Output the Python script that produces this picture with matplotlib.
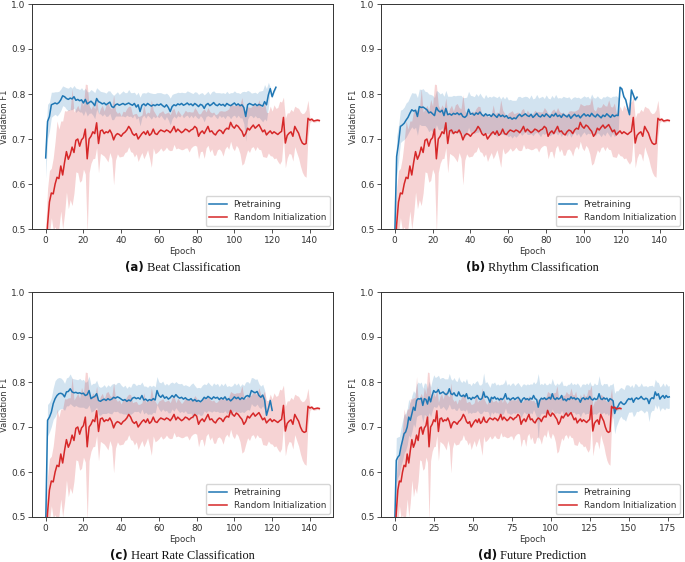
"""Validation F1 per epoch: pretraining vs random initialization on four ECG tasks"""

import numpy as np
import matplotlib.pyplot as plt

# validation F1 x1000, one value per epoch (mean and spread of the shaded band)
random_mean = [
    440, 510, 560, 580, 578, 600, 615, 612, 640, 620,
    648, 672, 655, 665, 682, 670, 697, 700, 684, 698,
    703, 722, 656, 700, 706, 716, 712, 736, 690, 718,
    720, 712, 716, 714, 720, 712, 698, 708, 712, 710,
    706, 712, 715, 720, 728, 722, 712, 708, 712, 700,
    706, 712, 716, 710, 718, 708, 712, 722, 712, 710,
    716, 720, 718, 716, 720, 718, 714, 720, 728, 716,
    722, 718, 714, 717, 722, 720, 716, 720, 722, 728,
    724, 706, 714, 718, 712, 720, 728, 716, 718, 712,
    709, 716, 720, 718, 712, 720, 724, 722, 737, 728,
    724, 731, 728, 722, 717, 706, 712, 724, 720, 726,
    731, 724, 728, 732, 724, 716, 720, 709, 714, 718,
    712, 716, 713, 710, 714, 717, 748, 691, 708, 713,
    716, 706, 728, 720, 713, 700, 691, 688, 690, 746,
    742, 744, 740, 741, 742, 741]
random_sd = [
    60, 80, 70, 55, 80, 95, 125, 110, 100, 120,
    115, 90, 110, 100, 130, 90, 70, 75, 80, 90,
    70, 100, 165, 75, 60, 60, 55, 55, 65, 50,
    55, 50, 60, 65, 50, 55, 100, 55, 45, 50,
    45, 50, 45, 48, 45, 50, 42, 48, 45, 50,
    45, 42, 60, 45, 42, 50, 75, 42, 45, 40,
    42, 40, 45, 40, 38, 42, 40, 45, 40, 38,
    42, 40, 38, 40, 42, 40, 45, 40, 38, 42,
    40, 50, 42, 45, 55, 40, 42, 45, 40, 48,
    45, 40, 42, 45, 50, 42, 40, 45, 42, 48,
    50, 45, 48, 55, 75, 60, 50, 48, 50, 45,
    48, 50, 45, 55, 48, 55, 60, 50, 45, 55,
    50, 60, 55, 60, 70, 65, 45, 55, 50, 45,
    50, 55, 45, 50, 55, 60, 65, 70, 75, 40,
    5, 4, 3, 3, 3, 3]

beat_mean = [
    658, 739, 750, 776, 778, 780, 778, 781, 787, 796,
    794, 790, 788, 791, 789, 794, 786, 788, 785, 787,
    780, 788, 778, 781, 784, 780, 774, 790, 783, 781,
    778, 780, 776, 779, 782, 772, 770, 776, 778, 775,
    777, 779, 776, 778, 780, 777, 775, 779, 771, 776,
    761, 775, 778, 774, 779, 776, 773, 776, 774, 777,
    775, 778, 774, 771, 776, 770, 761, 772, 776, 774,
    778, 776, 779, 775, 777, 780, 776, 778, 774, 779,
    776, 772, 777, 775, 768, 776, 779, 774, 777, 781,
    776, 774, 778, 775, 777, 773, 779, 776, 774, 777,
    780, 775, 778, 774, 776, 770, 750, 776, 779, 777,
    775, 778, 774, 777, 775, 773, 783, 776, 798, 812,
    794, 806, 815]
beat_sd = [
    45, 38, 32, 28, 26, 25, 27, 25, 24, 22,
    22, 24, 25, 26, 24, 25, 27, 24, 25, 27,
    28, 25, 27, 24, 26, 27, 29, 24, 27, 25,
    27, 24, 26, 28, 25, 29, 27, 25, 27, 24,
    26, 28, 27, 25, 30, 26, 28, 25, 27, 28,
    32, 27, 25, 28, 26, 27, 29, 25, 27, 26,
    28, 25, 27, 29, 26, 28, 30, 27, 25, 28,
    26, 27, 25, 28, 26, 27, 29, 25, 27, 26,
    28, 27, 25, 28, 30, 26, 27, 25, 28, 26,
    27, 29, 25, 27, 26, 28, 27, 25, 29, 26,
    27, 28, 25, 27, 29, 36, 55, 32, 27, 25,
    28, 26, 27, 29, 32, 35, 38, 36, 28, 3,
    3, 3, 3]

rhythm_mean = [
    480, 661, 690, 728, 731, 735, 742, 748, 757, 765,
    762, 764, 750, 772, 770, 771, 768, 765, 758, 760,
    756, 752, 770, 763, 760, 764, 752, 768, 754, 756,
    753, 757, 755, 758, 754, 757, 750, 748, 752, 766,
    755, 757, 753, 758, 755, 760, 754, 751, 756, 752,
    754, 750, 756, 752, 748, 755, 750, 753, 749, 752,
    746, 748, 744, 747, 745, 751, 755, 750, 753, 756,
    752, 750, 755, 748, 752, 757, 751, 749, 754, 750,
    756, 752, 748, 754, 751, 757, 750, 753, 748, 755,
    752, 749, 754, 746, 751, 755, 750, 753, 747, 752,
    756, 751, 754, 750, 757, 752, 749, 755, 751, 747,
    753, 750, 756, 752, 748, 754, 750, 753, 752, 815,
    811, 794, 787, 769, 754, 809, 798, 787, 793]
rhythm_sd = [
    50, 45, 40, 36, 35, 36, 38, 36, 37, 38,
    40, 38, 42, 39, 40, 41, 38, 40, 42, 39,
    41, 40, 38, 42, 40, 39, 43, 40, 41, 39,
    42, 40, 41, 39, 43, 40, 42, 44, 41, 40,
    42, 39, 41, 43, 40, 42, 41, 39, 43, 40,
    41, 43, 40, 42, 44, 41, 39, 42, 40, 43,
    41, 40, 42, 39, 41, 43, 40, 42, 41, 39,
    42, 40, 43, 41, 39, 42, 40, 44, 41, 40,
    42, 39, 41, 43, 40, 42, 41, 39, 43, 40,
    41, 43, 40, 42, 41, 39, 42, 40, 43, 41,
    40, 42, 41, 39, 43, 40, 42, 41, 40, 42,
    41, 43, 40, 42, 44, 41, 45, 43, 40, 3,
    3, 3, 3, 3, 3, 3, 3, 3, 3]

heart_mean = [
    480, 715, 722, 733, 752, 763, 770, 774, 775, 773,
    767, 778, 779, 785, 778, 776, 777, 775, 776, 774,
    775, 770, 772, 781, 763, 766, 768, 774, 759, 757,
    760, 762, 759, 763, 760, 762, 766, 764, 767, 765,
    762, 759, 761, 757, 760, 758, 764, 766, 763, 765,
    762, 770, 760, 762, 758, 761, 759, 763, 760, 781,
    770, 766, 771, 764, 767, 762, 765, 770, 766, 772,
    767, 764, 766, 762, 765, 761, 760, 763, 758, 761,
    757, 759, 756, 760, 766, 763, 768, 765, 762, 767,
    764, 766, 761, 765, 762, 767, 760, 763, 758, 762,
    767, 763, 766, 761, 765, 762, 768, 770, 767, 781,
    778, 776, 779, 770, 766, 771, 760, 726, 741, 759,
    737]
heart_sd = [
    45, 35, 33, 32, 35, 40, 38, 36, 34, 32,
    30, 31, 32, 33, 30, 31, 29, 30, 32, 30,
    31, 29, 30, 32, 30, 31, 29, 30, 32, 31,
    30, 32, 29, 31, 30, 33, 31, 30, 32, 34,
    31, 30, 32, 29, 31, 30, 33, 31, 29, 30,
    32, 30, 31, 29, 30, 32, 31, 30, 29, 31,
    30, 32, 31, 29, 30, 31, 33, 30, 31, 29,
    30, 32, 31, 30, 29, 31, 30, 32, 40, 31,
    30, 29, 31, 33, 30, 31, 32, 30, 29, 31,
    30, 31, 29, 32, 30, 31, 30, 29, 32, 30,
    31, 30, 32, 29, 31, 30, 32, 31, 30, 29,
    31, 30, 28, 26, 25, 24, 22, 3, 3, 3,
    3]

future_mean = [
    480, 626, 633, 637, 656, 670, 685, 689, 700, 722,
    715, 730, 744, 737, 759, 763, 762, 764, 748, 763,
    761, 751, 767, 756, 770, 781, 777, 778, 783, 774,
    776, 778, 774, 772, 775, 785, 774, 772, 776, 770,
    769, 778, 770, 768, 771, 767, 774, 763, 765, 761,
    766, 764, 767, 770, 763, 761, 764, 778, 766, 768,
    764, 755, 766, 763, 767, 762, 764, 760, 763, 761,
    765, 774, 762, 764, 760, 763, 765, 761, 764, 766,
    762, 755, 762, 765, 761, 763, 760, 764, 762, 770,
    763, 761, 744, 759, 764, 762, 765, 761, 763, 766,
    762, 774, 764, 761, 765, 762, 764, 770, 760, 762,
    758, 763, 761, 767, 763, 765, 761, 764, 762, 755,
    763, 765, 761, 764, 762, 768, 762, 760, 764, 761,
    763, 774, 763, 761, 765, 762, 764, 757, 763, 761,
    758, 730, 741, 745, 752, 756, 752, 750, 753, 759,
    763, 761, 764, 755, 762, 765, 762, 764, 768, 763,
    761, 764, 762, 752, 762, 765, 763, 778, 770, 774,
    762, 767, 770, 764, 770, 766, 767]
future_sd = [
    50, 50, 45, 42, 42, 44, 43, 41, 40, 40,
    38, 40, 37, 38, 36, 37, 35, 36, 38, 35,
    36, 34, 35, 33, 34, 35, 33, 34, 32, 33,
    34, 32, 33, 35, 32, 34, 33, 32, 34, 33,
    32, 34, 33, 31, 33, 32, 34, 33, 32, 31,
    33, 32, 34, 33, 31, 32, 33, 42, 32, 33,
    31, 33, 32, 34, 33, 31, 32, 33, 32, 34,
    33, 32, 31, 33, 32, 34, 33, 31, 32, 33,
    32, 34, 33, 31, 32, 33, 34, 32, 33, 31,
    33, 40, 75, 35, 33, 32, 34, 33, 31, 32,
    33, 34, 32, 31, 33, 32, 34, 33, 32, 31,
    33, 32, 34, 33, 31, 32, 33, 34, 32, 33,
    32, 31, 33, 34, 32, 33, 31, 32, 34, 33,
    32, 40, 33, 31, 32, 34, 33, 32, 31, 33,
    40, 45, 40, 35, 33, 32, 34, 33, 40, 35,
    30, 28, 30, 32, 35, 30, 28, 27, 30, 28,
    30, 28, 27, 40, 30, 28, 26, 28, 30, 25,
    27, 25, 28, 26, 27, 25, 25]

tags = ["(a)", "(b)", "(c)", "(d)"]
titles = ["Beat Classification", "Rhythm Classification",
          "Heart Rate Classification", "Future Prediction"]
pre_means = [beat_mean, rhythm_mean, heart_mean, future_mean]
pre_sds = [beat_sd, rhythm_sd, heart_sd, future_sd]

W, H = 685, 562
fig = plt.figure(figsize=(W / 100, H / 100), dpi=100)
renderer = fig.canvas.get_renderer()
ink = "#333333"

# axes boxes in pixels: left, top, width, height
boxes = [(32, 4, 301, 225), (381, 4, 302, 225), (32, 292, 301, 225), (381, 292, 302, 225)]


def band(ax, mean, sd, color, label):
    m = np.array(mean) / 1000
    s = np.array(sd) / 1000
    x = np.arange(len(m))
    ax.fill_between(x, m - s, m + s, color=color, alpha=0.2, linewidth=0)
    ax.plot(x, m, color=color, lw=1.1, label=label)


for i in range(4):
    l, t, w, h = boxes[i]
    ax = fig.add_axes([l / W, 1 - (t + h) / H, w / W, h / H])
    band(ax, pre_means[i], pre_sds[i], "#1f77b4", "Pretraining")
    band(ax, random_mean, random_sd, "#d62728", "Random Initialization")
    ax.set_ylim(0.5, 1.0)
    ax.set_yticks([0.5, 0.6, 0.7, 0.8, 0.9, 1.0])
    ax.tick_params(labelsize=6.5, length=2.7, width=0.6, pad=2, color=ink, labelcolor=ink)
    for sp in ax.spines.values():
        sp.set_linewidth(0.7)
        sp.set_color(ink)
    ax.set_xlabel("Epoch", fontsize=6.2, labelpad=1.5, color=ink)
    ax.set_ylabel("Validation F1", fontsize=6, labelpad=1.5, color=ink)
    leg = ax.legend(loc="lower right", fontsize=6.3, borderaxespad=0.4)
    for txt in leg.get_texts():
        txt.set_color(ink)

    # caption: bold sans tag + serif title, centred under the axes
    cy = 1 - (t + 267) / H
    t1 = fig.text(0, cy, tags[i], fontsize=8.5, fontweight="bold", family="DejaVu Sans",
                  va="baseline", color="#111111")
    t2 = fig.text(0, cy, " " + titles[i], fontsize=8.8, family="Liberation Serif",
                  va="baseline", color="#111111")
    w1 = t1.get_window_extent(renderer).width
    w2 = t2.get_window_extent(renderer).width
    x0 = l + w / 2 - (w1 + w2) / 2
    t1.set_x(x0 / W)
    t2.set_x((x0 + w1) / W)

fig.savefig("out.png", dpi=100)
